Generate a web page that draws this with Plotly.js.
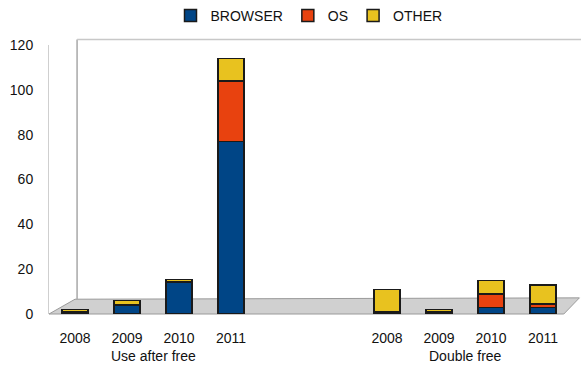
<!DOCTYPE html>
<html>
<head>
<meta charset="utf-8">
<script src="https://cdn.plot.ly/plotly-3.0.1.min.js"></script>
<style>html,body{margin:0;padding:0;background:#fff;}#chart{width:581px;height:368px;}</style>
</head>
<body>
<div id="chart"></div>
<script>
// ---- data ----
const groups = ["Use after free", "Double free"];
const years = ["2008", "2009", "2010", "2011"];
const seriesNames = ["BROWSER", "OS", "OTHER"];
// values per group, per year
const browser = [[1, 4, 14, 77], [0, 1, 3, 3]];
const os      = [[0, 0, 0.5, 27], [1, 0, 6, 1.5]];
const other   = [[1, 2, 1, 10], [10, 1, 6, 8.5]];
const colors = ["#004586", "#e8420f", "#e8c21f"];

// ---- layout helpers (positions from indices) ----
const groupGap = 2; // empty slots between groups
const xs = [], tickText = [];
groups.forEach((g, gi) => years.forEach((y, yi) => {
  xs.push(gi * (years.length + groupGap) + yi);
  tickText.push(y);
}));
const flat = arr => arr.flat();
const vals = [flat(browser), flat(os), flat(other)];

const traces = seriesNames.map((name, i) => ({
  type: "bar",
  name: name,
  x: xs,
  y: vals[i],
  width: 0.5,
  marker: {color: colors[i], line: {color: "#1a1a1a", width: 1.5}},
  hoverinfo: "name+y"
}));

const groupCenters = groups.map((g, gi) => gi * (years.length + groupGap) + (years.length - 1) / 2);

const font = {family: "Liberation Sans, Arial, sans-serif", size: 14, color: "#111"};

const layout = {
  width: 581, height: 368,
  margin: {l: 49, r: 12, t: 45, b: 54},
  barmode: "stack",
  paper_bgcolor: "#fff", plot_bgcolor: "rgba(0,0,0,0)",
  font: font,
  showlegend: true,
  legend: {orientation: "h", traceorder: "normal", x: 0.5, xanchor: "center", y: 1.0, yref: "container", yanchor: "top",
           font: {family: font.family, size: 14, color: "#111"}, tracegroupgap: 0},
  xaxis: {
    range: [-0.5, 9.5], tickmode: "array", tickvals: xs, ticktext: tickText,
    showgrid: false, zeroline: false, showline: false, ticks: "", ticklabelstandoff: 14,
    tickfont: {family: font.family, size: 14, color: "#111"}, fixedrange: true
  },
  yaxis: {
    range: [0, 120], dtick: 20, showgrid: false, zeroline: false,
    showline: true, linecolor: "#cfcfcf", linewidth: 1, ticks: "", ticklabelstandoff: 12,
    tickfont: {family: font.family, size: 14, color: "#111"}, fixedrange: true
  },
  shapes: [
    // floor
    {type: "path", xref: "paper", yref: "paper", layer: "below",
     path: "M 0,0 L 0.05,0.055 L 1.02,0.06 L 0.99,0 Z",
     fillcolor: "#d0d0d0", line: {color: "#9a9a9a", width: 1}},
    // back wall edges
    {type: "line", xref: "paper", yref: "paper", layer: "below", x0: 0.054, x1: 0.054, y0: 0.055, y1: 1.02,
     line: {color: "#a8a8a8", width: 1.5}},
    {type: "line", xref: "paper", yref: "paper", layer: "below", x0: 0.054, x1: 1.03, y0: 1.02, y1: 1.02,
     line: {color: "#c8c8c8", width: 1.5}}
  ],
  annotations: groups.map((g, gi) => ({
    text: g, x: groupCenters[gi], xref: "x", y: 0, yref: "paper", yanchor: "middle", yshift: -42,
    showarrow: false, font: {family: font.family, size: 14, color: "#111"}
  }))
};

Plotly.newPlot("chart", traces, layout, {displayModeBar: false, staticPlot: true});
</script>
</body>
</html>
